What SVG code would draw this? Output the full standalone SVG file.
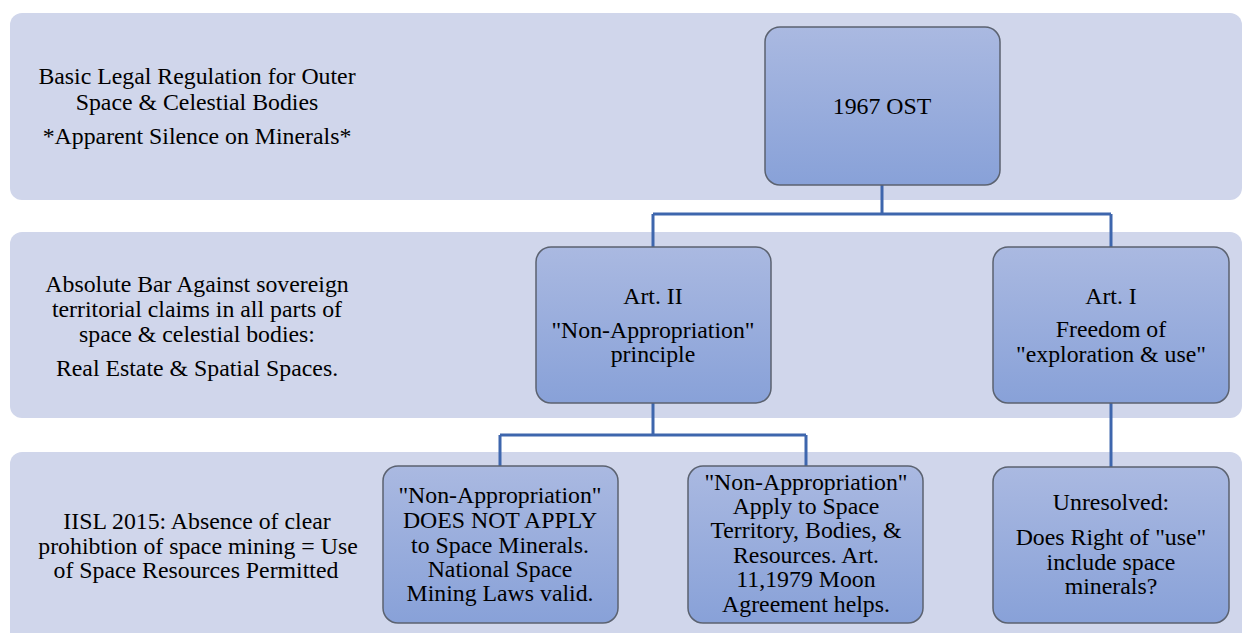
<svg xmlns="http://www.w3.org/2000/svg" width="1243" height="633" viewBox="0 0 1243 633">
  <defs>
    <linearGradient id="boxFill" x1="0" y1="0" x2="0" y2="1">
      <stop offset="0" stop-color="#aab9e1"/>
      <stop offset="1" stop-color="#88a1d8"/>
    </linearGradient>
    <style>
      .band { fill: #d0d6eb; }
      .box { fill: url(#boxFill); stroke: #5b6270; stroke-width: 1.5; }
      .link { fill: none; stroke: #3e66ad; stroke-width: 3; }
      text { font-size: 23.8px; fill: #000; text-anchor: middle; }
    </style>
  </defs>
  <rect width="1243" height="633" fill="#ffffff"/>

  <!-- horizontal level bands -->
  <g id="bands">
    <rect class="band" x="10" y="13" width="1232" height="187" rx="12"/>
    <rect class="band" x="10" y="232" width="1232" height="186" rx="12"/>
    <rect class="band" x="10" y="452" width="1232" height="200" rx="12"/>
  </g>

  <g font-family="'Liberation Serif', 'Times New Roman', 'DejaVu Serif', serif">
  <!-- level captions -->
  <g id="caption-level1">
    <text x="197" y="84">Basic Legal Regulation for Outer</text>
    <text x="197" y="110">Space &amp; Celestial Bodies</text>
    <text x="197" y="144">*Apparent Silence on Minerals*</text>
  </g>
  <g id="caption-level2">
    <text x="197" y="292">Absolute Bar Against sovereign</text>
    <text x="197" y="317">territorial claims in all parts of</text>
    <text x="197" y="342">space &amp; celestial bodies:</text>
    <text x="197" y="376">Real Estate &amp; Spatial Spaces.</text>
  </g>
  <g id="caption-level3">
    <text x="197" y="529">IISL 2015: Absence of clear</text>
    <text x="198" y="554">prohibtion of space mining = Use</text>
    <text x="196" y="578">of Space Resources Permitted</text>
  </g>

  <!-- connectors -->
  <g id="connectors">
    <path class="link" d="M882,185 V214 M653,214 H1111 M653,214 V247 M1111,214 V247"/>
    <path class="link" d="M653,403 V435 M500,435 H806 M500,435 V466 M806,435 V466"/>
    <path class="link" d="M1111,403 V467"/>
  </g>

  <g id="node-ost">
    <rect class="box" x="765" y="27" width="235" height="158" rx="15"/>
    <text x="882" y="114">1967 OST</text>
  </g>

  <g id="node-art2">
    <rect class="box" x="536" y="247" width="235" height="156" rx="15"/>
    <text x="653" y="304">Art. II</text>
    <text x="653" y="338">"Non-Appropriation"</text>
    <text x="653" y="362">principle</text>
  </g>

  <g id="node-art1">
    <rect class="box" x="993" y="247" width="236" height="156" rx="15"/>
    <text x="1111" y="304">Art. I</text>
    <text x="1111" y="337">Freedom of</text>
    <text x="1111" y="362">"exploration &amp; use"</text>
  </g>

  <g id="node-minerals-exempt">
    <rect class="box" x="383" y="466" width="235" height="157" rx="15"/>
    <text x="500" y="503">"Non-Appropriation"</text>
    <text x="500" y="528">DOES NOT APPLY</text>
    <text x="500" y="553">to Space Minerals.</text>
    <text x="500" y="577">National Space</text>
    <text x="500" y="601">Mining Laws valid.</text>
  </g>

  <g id="node-resources-covered">
    <rect class="box" x="688" y="466" width="235" height="157" rx="15"/>
    <text x="806" y="490">"Non-Appropriation"</text>
    <text x="806" y="514">Apply to Space</text>
    <text x="806" y="538">Territory, Bodies, &amp;</text>
    <text x="806" y="563">Resources. Art.</text>
    <text x="806" y="587">11,1979 Moon</text>
    <text x="806" y="612">Agreement helps.</text>
  </g>

  <g id="node-unresolved">
    <rect class="box" x="993" y="467" width="236" height="156" rx="15"/>
    <text x="1111" y="510">Unresolved:</text>
    <text x="1111" y="545">Does Right of "use"</text>
    <text x="1111" y="570">include space</text>
    <text x="1111" y="594">minerals?</text>
  </g>
  </g>
</svg>
